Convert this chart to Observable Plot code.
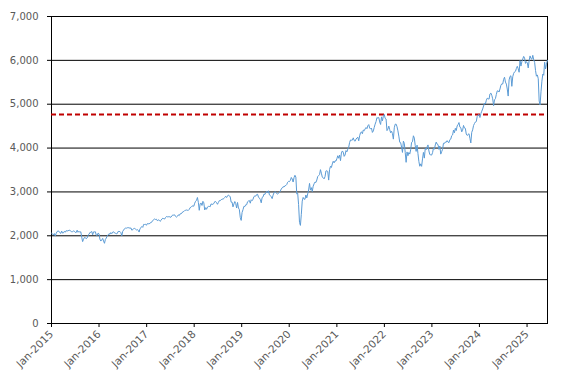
<!DOCTYPE html>
<html><head><meta charset="utf-8">
<script src="https://cdn.jsdelivr.net/npm/d3@7"></script>
<script src="https://cdn.jsdelivr.net/npm/@observablehq/plot@0.6"></script>
<style>body{margin:0;background:#fff}</style>
</head><body><div id="chart"></div>
<script>
// Weekly (Friday) index levels, first week ending 2015-01-02
const firstWeek = "2015-01-02";
const v2015 = [2058,2044,2019,2051,1995,2055,2097,2110,2104,2071,2053,2108,2061,2067,2102,2081,2117,2108,2116,2123,2126,2107,2092,2094,2110,2102,2077,2077,2127,2080,2104,2078,2092,1971,1867,1921,1961,1958,1931,1951,2015,2033,2075,2079,2099,2023,2089,2090,2092,2012,2006,2061,2044];
const v2016 = [1922,1880,1907,1940,1880,1829,1918,1948,1999,2022,2049,2035,2073,2048,2081,2092,2065,2057,2047,2052,2099,2099,2096,2071,2000,2103,2130,2162,2175,2173,2183,2184,2184,2169,2180,2128,2139,2165,2168,2153,2133,2141,2126,2085,2164,2182,2213,2192,2260,2258,2264,2239];
const v2017 = [2277,2275,2271,2295,2297,2316,2351,2367,2383,2372,2378,2344,2363,2355,2329,2349,2384,2399,2391,2382,2416,2439,2432,2433,2438,2423,2425,2459,2472,2472,2477,2441,2426,2443,2477,2461,2500,2502,2519,2549,2553,2575,2581,2588,2582,2579,2602,2642,2652,2675,2683,2674];
const v2018 = [2743,2786,2810,2873,2762,2581,2732,2747,2691,2786,2752,2588,2641,2604,2656,2670,2670,2663,2728,2713,2721,2735,2779,2780,2755,2718,2760,2801,2802,2819,2840,2833,2850,2875,2902,2872,2905,2930,2914,2886,2767,2768,2659,2723,2781,2736,2633,2760,2633,2600,2417,2351];
const v2019 = [2532,2596,2671,2665,2707,2708,2776,2793,2804,2743,2822,2800,2834,2893,2907,2905,2940,2946,2881,2860,2826,2752,2873,2887,2950,2942,2990,3014,2977,3026,2932,2919,2889,2847,2926,2979,3007,2992,2962,2952,2970,2986,3023,3067,3093,3120,3110,3141,3146,3169,3221,3240];
const v2020 = [3235,3265,3330,3295,3226,3328,3380,3338,2954,2972,2711,2305,2237,2489,2790,2875,2837,2831,2930,2864,2955,3044,3194,3041,3098,3009,3130,3185,3225,3216,3271,3351,3373,3397,3508,3427,3341,3319,3298,3348,3477,3484,3465,3270,3510,3585,3558,3638,3699,3663,3709,3703,3756];
const v2021 = [3825,3768,3841,3714,3887,3934,3907,3811,3842,3943,3913,3975,4020,4129,4185,4180,4181,4233,4174,4156,4204,4230,4247,4166,4281,4352,4370,4327,4412,4395,4437,4468,4442,4509,4535,4459,4433,4455,4357,4391,4471,4545,4605,4697,4682,4698,4595,4538,4712,4620,4726,4766];
const v2022 = [4677,4663,4398,4432,4501,4419,4349,4385,4329,4204,4463,4543,4546,4488,4393,4272,4132,4123,4024,3901,4158,4109,3901,3675,3912,3825,3899,3863,3962,4130,4145,4280,4228,4058,3924,4067,3873,3693,3586,3640,3583,3753,3901,3771,3993,3965,4026,4072,3934,3852,3845,3840];
const v2023 = [3895,3999,3973,4071,4136,4090,4079,3970,4046,3862,3917,3971,4109,4105,4138,4133,4169,4136,4124,4192,4205,4282,4299,4410,4348,4450,4399,4505,4536,4582,4478,4464,4370,4406,4516,4457,4450,4320,4288,4308,4327,4224,4117,4358,4415,4514,4559,4595,4604,4719,4755,4770];
const v2024 = [4697,4784,4840,4891,4959,5027,5006,5089,5137,5124,5117,5234,5254,5204,5123,4967,5100,5128,5223,5303,5305,5278,5347,5432,5465,5460,5567,5615,5505,5459,5346,5186,5554,5634,5648,5408,5626,5703,5738,5751,5815,5864,5808,5729,5996,5870,5969,6032,6090,6051,5931,5971];
const v2025 = [5942,5827,5997,6101,6041,6026,6115,6013,5955,5770,5639,5668,5581,5074,4983,5283,5525,5687,5660,5958,5803,5912,6000];

const referenceLevel = 4766;
const yTickValues = [0,1000,2000,3000,4000,5000,6000,7000];
const xTickYears = [2015,2016,2017,2018,2019,2020,2021,2022,2023,2024,2025];
const xDomainEnd = "2025-06-07";

const allValues = [].concat(v2015,v2016,v2017,v2018,v2019,v2020,v2021,v2022,v2023,v2024,v2025);
const t0 = new Date(firstWeek + "T00:00:00Z").getTime();
const data = allValues.map((v,i)=>({date:new Date(t0 + i*7*86400000), value:v}));
const xTicks = xTickYears.map(y=>new Date(Date.UTC(y,0,1)));

const chart = Plot.plot({
  width:574, height:387,
  marginLeft:51, marginRight:27, marginTop:16, marginBottom:64,
  style:{fontFamily:"'DejaVu Sans', Verdana, sans-serif", fontSize:"10px", background:"white", color:"black"},
  x:{type:"utc", domain:[new Date(Date.UTC(2015,0,1)), new Date(xDomainEnd+"T00:00:00Z")]},
  y:{domain:[0,7000]},
  marks:[
    Plot.gridY(yTickValues, {stroke:"black", strokeOpacity:1}),
    Plot.frame({stroke:"black"}),
    Plot.axisY({ticks:yTickValues, tickFormat:d3.format(","), tickSize:4, tickPadding:9, fill:"#595959", stroke:"black", label:null}),
    Plot.axisX({ticks:xTicks, tickFormat:d3.utcFormat("%b-%Y"), tickRotate:-45, tickSize:4, tickPadding:5, fill:"#595959", stroke:"black", label:null, fontSize:"10.5px"}),
    Plot.ruleY([referenceLevel], {stroke:"#c00000", strokeWidth:2, strokeDasharray:"5,3"}),
    Plot.line(data, {x:"date", y:"value", stroke:"#5b9bd5", strokeWidth:1})
  ]
});
document.getElementById("chart").append(chart);
</script>
</body></html>
